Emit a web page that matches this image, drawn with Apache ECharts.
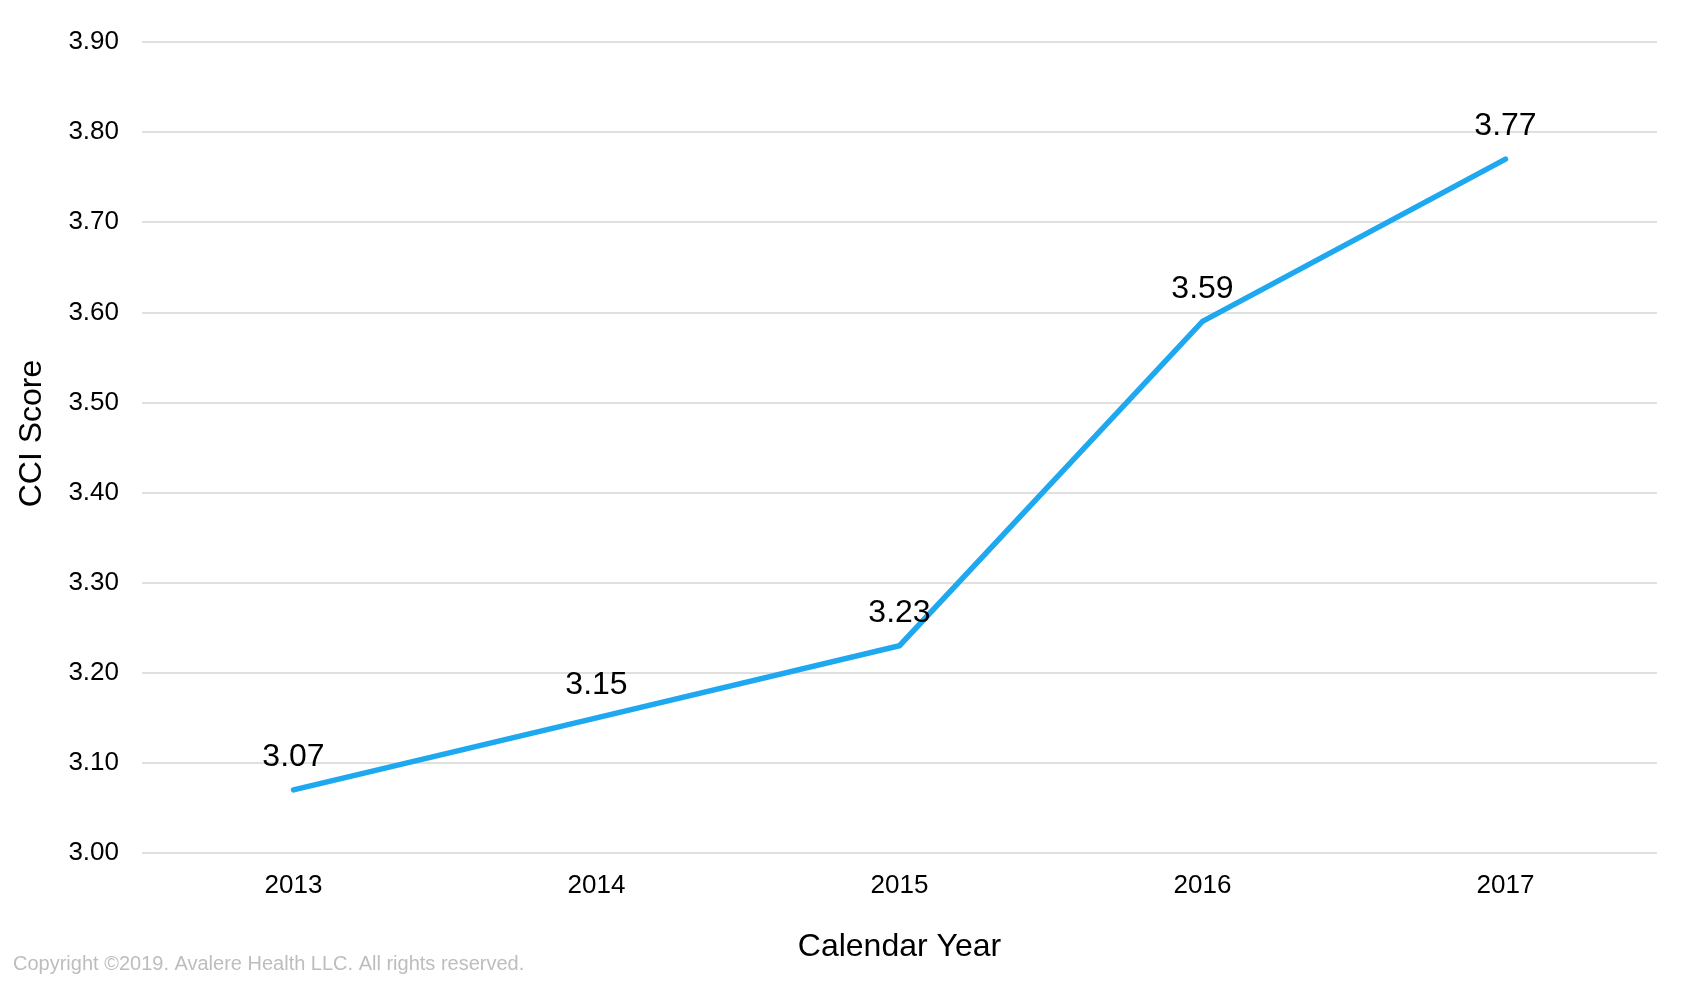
<!DOCTYPE html>
<html>
<head>
<meta charset="utf-8">
<script src="https://cdn.jsdelivr.net/npm/echarts@6/dist/echarts.min.js"></script>
<style>
html,body{margin:0;padding:0;background:#fff;}
#chart{width:1689px;height:983px;}
</style>
</head>
<body>
<div id="chart"></div>
<script>
const years = ['2013', '2014', '2015', '2016', '2017'];
const cciScores = [3.07, 3.15, 3.23, 3.59, 3.77];
const yMin = 3.0, yMax = 3.9, yStep = 0.1;

const chart = echarts.init(document.getElementById('chart'), null, {renderer: 'canvas'});
const FONT = 'Liberation Sans, Arial, Helvetica, sans-serif';
chart.setOption({
  backgroundColor: '#ffffff',
  animation: false,
  textStyle: {fontFamily: FONT},
  grid: {left: 142, right: 32, top: 42, bottom: 130, containLabel: false},
  xAxis: {
    type: 'category',
    data: years,
    boundaryGap: true,
    axisLine: {show: false},
    axisTick: {show: false},
    axisLabel: {color: '#000', fontSize: 26, margin: 20, fontFamily: FONT},
    name: 'Calendar Year',
    nameLocation: 'middle',
    nameGap: 78,
    nameTextStyle: {color: '#000', fontSize: 32, fontFamily: FONT}
  },
  yAxis: {
    type: 'value',
    min: yMin, max: yMax, interval: yStep,
    axisLine: {show: false},
    axisTick: {show: false},
    splitLine: {show: true, lineStyle: {color: '#d6d6d6', width: 1.5}},
    axisLabel: {color: '#000', fontSize: 26, margin: 23, fontFamily: FONT,
      formatter: v => v.toFixed(2)},
    name: 'CCI Score',
    nameLocation: 'middle',
    nameGap: 94,
    nameTextStyle: {color: '#000', fontSize: 32, fontFamily: FONT, padding: [0, 0, 0, 28]}
  },
  graphic: [{
    type: 'text', left: 13, top: 954,
    style: {text: 'Copyright ©2019. Avalere Health LLC. All rights reserved.',
      fill: '#bdbdbd', font: '20px ' + FONT}
  }],
  series: [{
    type: 'line',
    data: cciScores,
    symbol: 'circle',
    symbolSize: 1,
    showSymbol: true,
    itemStyle: {color: '#1ea8ef', opacity: 0},
    lineStyle: {color: '#1ea8ef', width: 5.5, cap: 'round', join: 'miter'},
    label: {show: true, position: 'top', distance: 16, color: '#000', fontSize: 32,
      fontFamily: FONT, opacity: 1, formatter: p => p.value.toFixed(2)},
    labelLayout: {hideOverlap: false}
  }]
});
</script>
</body>
</html>
